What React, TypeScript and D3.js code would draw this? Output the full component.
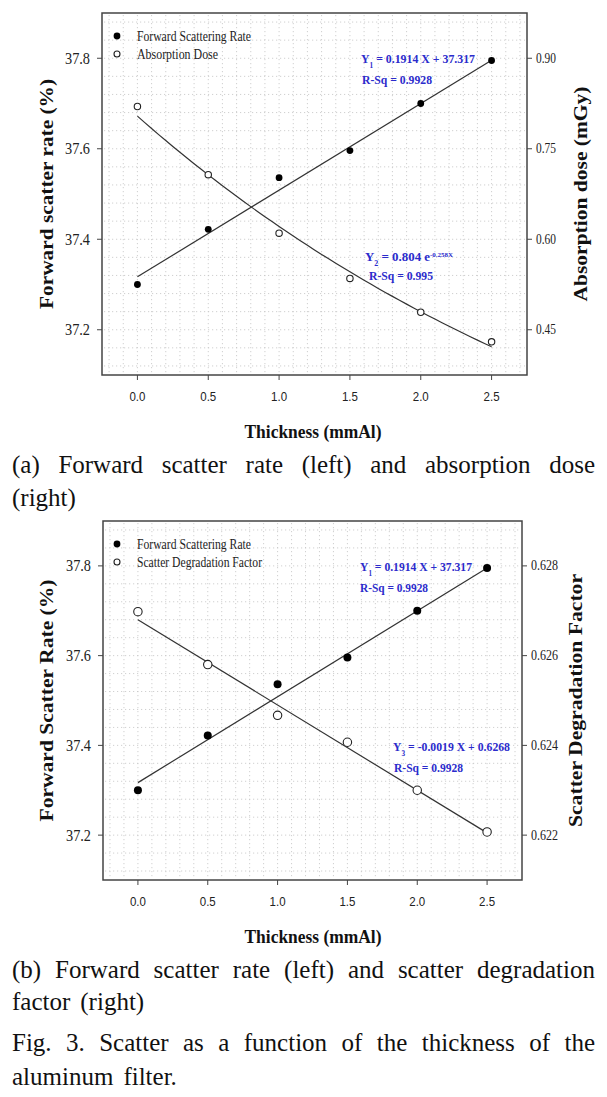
import React from "react";
import * as d3 from "d3";

// ---------- data ----------
const thickness = [0, 0.5, 1.0, 1.5, 2.0, 2.5];
const forwardScatter = [37.3, 37.422, 37.536, 37.596, 37.7, 37.795];
const absorptionDose = [0.82, 0.707, 0.61, 0.535, 0.479, 0.43];
const degradationFactor = [0.62698, 0.6258, 0.62467, 0.62407, 0.623, 0.62207];

const xTicks = [0, 0.5, 1.0, 1.5, 2.0, 2.5];
const leftTicks = [37.2, 37.4, 37.6, 37.8];
const doseTicks = [0.45, 0.6, 0.75, 0.9];
const factorTicks = [0.622, 0.624, 0.626, 0.628];

// fitted models as printed in the chart
const fit1 = { slope: 0.1914, intercept: 37.317 };
const fit2 = { a: 0.804, b: -0.258 };
const fit3 = { slope: -0.0019, intercept: 0.6268 };

const SERIF = '"Liberation Serif", "Times New Roman", serif';
const SANS = '"Liberation Sans", Arial, sans-serif';
const BLUE = "#2b2bcc";

// ---------- helpers ----------
let ctx: CanvasRenderingContext2D | null = null;
function measure(text: string, font: string) {
  if (!ctx) ctx = document.createElement("canvas").getContext("2d");
  ctx!.font = font;
  return ctx!.measureText(text).width;
}

function JustifiedLine({ text, x0, x1, y, size, justify }: any) {
  const font = `${size}px ${SERIF}`;
  const words = text.split(" ");
  const widths = words.map((w: string) => measure(w, font));
  const total = widths.reduce((a: number, b: number) => a + b, 0);
  const gap = justify ? (x1 - x0 - total) / (words.length - 1) : measure(" ", font) * 1.6;
  let x = x0;
  return (
    <g>
      {words.map((w: string, i: number) => {
        const el = (
          <text key={i} x={x} y={y} fontFamily={SERIF} fontSize={size} fill="#111">
            {w}
          </text>
        );
        x += widths[i] + gap;
        return el;
      })}
    </g>
  );
}

function Panel({ box, rightDomain, rightTicks, rightFmt, openData, rightLabel, leftLabel, leftLen, rightLen, fitKind, legend2, legW, eqs, rOpen, rFilled }: any) {
  const x = d3.scaleLinear().domain([-0.25, 2.75]).range([box.x0, box.x1]);
  const yL = d3.scaleLinear().domain([37.1, 37.9]).range([box.y1, box.y0]);
  const yR = d3.scaleLinear().domain(rightDomain).range([box.y1, box.y0]);

  const gridX = d3.range(-2, 28).map((i) => i / 10);
  const gridY = d3.range(0, 21).map((i) => 37.1 + 0.02 + i * 0.04).filter((v) => v < 37.9);

  const line1 = d3.line<number>().x((t) => x(t)).y((t) => yL(fit1.slope * t + fit1.intercept));
  const fitSamples = d3.range(0, 2.5001, 0.05);
  const line2 =
    fitKind === "exp"
      ? d3.line<number>().x((t) => x(t)).y((t) => yR(fit2.a * Math.exp(fit2.b * t)))
      : d3.line<number>().x((t) => x(t)).y((t) => yR(fit3.slope * t + fit3.intercept));

  const cy = (box.y0 + box.y1) / 2;

  return (
    <g>
      {/* grid */}
      <g stroke="#c4c4c4" strokeWidth={0.8} strokeDasharray="1.2,2.8">
        {gridX.map((g, i) => (
          <line key={"gx" + i} x1={x(g)} x2={x(g)} y1={box.y0 + 2} y2={box.y1 - 2} />
        ))}
        {gridY.map((g, i) => (
          <line key={"gy" + i} x1={box.x0 + 2} x2={box.x1 - 2} y1={yL(g)} y2={yL(g)} />
        ))}
      </g>
      {/* fits */}
      <path d={line1([0, 2.5]) || ""} fill="none" stroke="#333" strokeWidth={1.2} />
      <path d={line2(fitKind === "exp" ? fitSamples : [0, 2.5]) || ""} fill="none" stroke="#333" strokeWidth={1.2} />
      {/* points */}
      {thickness.map((t, i) => (
        <circle key={"f" + i} cx={x(t)} cy={yL(forwardScatter[i])} r={rFilled} fill="#000" />
      ))}
      {thickness.map((t, i) => (
        <circle key={"o" + i} cx={x(t)} cy={yR(openData[i])} r={rOpen} fill="#fff" stroke="#222" strokeWidth={1.1} />
      ))}
      {/* box */}
      <rect x={box.x0} y={box.y0} width={box.x1 - box.x0} height={box.y1 - box.y0} fill="none" stroke="#444" strokeWidth={1.5} />
      {/* x axis ticks */}
      {xTicks.map((t, i) => (
        <g key={"xt" + i}>
          <line x1={x(t)} x2={x(t)} y1={box.y1} y2={box.y1 + 5} stroke="#444" strokeWidth={1} />
          <text x={x(t)} y={box.y1 + 21} textAnchor="middle" dominantBaseline="central" fontFamily={SANS} fontSize={13} fill="#222" textLength={16} lengthAdjust="spacingAndGlyphs">
            {t.toFixed(1)}
          </text>
        </g>
      ))}
      {/* left ticks */}
      {leftTicks.map((t, i) => (
        <g key={"lt" + i}>
          <line x1={box.x0 - 5} x2={box.x0} y1={yL(t)} y2={yL(t)} stroke="#444" strokeWidth={1} />
          <text x={box.x0 - 12} y={yL(t)} textAnchor="end" dominantBaseline="central" fontFamily={SERIF} fontSize={16} fill="#222" textLength={25} lengthAdjust="spacingAndGlyphs">
            {t.toFixed(1)}
          </text>
        </g>
      ))}
      {/* right ticks */}
      {rightTicks.map((t: number, i: number) => (
        <g key={"rt" + i}>
          <line x1={box.x1} x2={box.x1 + 5} y1={yR(t)} y2={yR(t)} stroke="#444" strokeWidth={1} />
          <text x={box.x1 + 9} y={yR(t)} textAnchor="start" dominantBaseline="central" fontFamily={SERIF} fontSize={14} fill="#222" textLength={rightFmt === 2 ? 20 : 27} lengthAdjust="spacingAndGlyphs">
            {t.toFixed(rightFmt)}
          </text>
        </g>
      ))}
      {/* axis titles */}
      <text x={313} y={box.y1 + 56} textAnchor="middle" dominantBaseline="central" fontFamily={SERIF} fontWeight="bold" fontSize={19} fill="#111" textLength={137} lengthAdjust="spacingAndGlyphs">
        Thickness (mmAl)
      </text>
      <text transform={`translate(46,${cy}) rotate(-90)`} textAnchor="middle" dominantBaseline="central" fontFamily={SERIF} fontWeight="bold" fontSize={19} fill="#111" textLength={leftLen} lengthAdjust="spacingAndGlyphs">
        {leftLabel}
      </text>
      <text transform={`translate(${box.x1 + 53},${cy}) rotate(-90)`} textAnchor="middle" dominantBaseline="central" fontFamily={SERIF} fontWeight="bold" fontSize={19} fill="#111" textLength={rightLen} lengthAdjust="spacingAndGlyphs">
        {rightLabel}
      </text>
      {/* legend */}
      <circle cx={117} cy={box.y0 + 23} r={3.4} fill="#000" />
      <circle cx={117} cy={box.y0 + 41} r={3} fill="#fff" stroke="#222" strokeWidth={1.1} />
      <text x={137} y={box.y0 + 23} dominantBaseline="central" fontFamily={SERIF} fontSize={14} fill="#222" textLength={114} lengthAdjust="spacingAndGlyphs">
        Forward Scattering Rate
      </text>
      <text x={137} y={box.y0 + 41} dominantBaseline="central" fontFamily={SERIF} fontSize={14} fill="#222" textLength={legW} lengthAdjust="spacingAndGlyphs">
        {legend2}
      </text>
      {/* equations */}
      {eqs.map((e: any, i: number) => (
        <text key={"eq" + i} x={e.x} y={e.y + 4.5} fontFamily={SERIF} fontWeight="bold" fontSize={13} fill={BLUE} textLength={e.w} lengthAdjust="spacingAndGlyphs">
          {e.parts.map((p: any, j: number) => (
            <tspan key={j} baselineShift={p.shift || undefined} fontSize={p.size || undefined}>
              {p.t}
            </tspan>
          ))}
        </text>
      ))}
    </g>
  );
}

export default function App() {
  const topEqs = [
    { x: 361, y: 58, w: 114, parts: [{ t: "Y" }, { t: "1", shift: "sub", size: 8 }, { t: " = 0.1914 X + 37.317" }] },
    { x: 362, y: 79, w: 70, parts: [{ t: "R-Sq = 0.9928" }] },
    { x: 365, y: 256, w: 88, parts: [{ t: "Y" }, { t: "2", shift: "sub", size: 8 }, { t: " = 0.804 e" }, { t: "-0.258X", shift: "super", size: 7 }] },
    { x: 369, y: 275, w: 64, parts: [{ t: "R-Sq = 0.995" }] },
  ];
  const botEqs = [
    { x: 360, y: 566, w: 112, parts: [{ t: "Y" }, { t: "1", shift: "sub", size: 8 }, { t: " = 0.1914 X + 37.317" }] },
    { x: 360, y: 587, w: 68, parts: [{ t: "R-Sq = 0.9928" }] },
    { x: 393, y: 746, w: 117, parts: [{ t: "Y" }, { t: "3", shift: "sub", size: 8 }, { t: " = -0.0019 X + 0.6268" }] },
    { x: 394, y: 767, w: 69, parts: [{ t: "R-Sq = 0.9928" }] },
  ];
  const capSize = 25;
  return (
    <svg width={607} height={1097} style={{ position: "absolute", left: 0, top: 0, background: "#fff" }}>
      <rect x={0} y={0} width={607} height={1097} fill="#fff" />
      <Panel
        box={{ x0: 102, x1: 527, y0: 13, y1: 375 }}
        rightDomain={[0.375, 0.975]}
        rightTicks={doseTicks}
        rightFmt={2}
        openData={absorptionDose}
        leftLabel="Forward scatter rate (%)"
        rightLabel="Absorption dose (mGy)"
        leftLen={230}
        rightLen={215}
        fitKind="exp"
        legend2="Absorption Dose"
        legW={81}
        eqs={topEqs}
        rOpen={3.2}
        rFilled={3.4}
      />
      <Panel
        box={{ x0: 103, x1: 522, y0: 521, y1: 880 }}
        rightDomain={[0.621, 0.629]}
        rightTicks={factorTicks}
        rightFmt={3}
        openData={degradationFactor}
        leftLabel="Forward Scatter Rate (%)"
        rightLabel="Scatter Degradation Factor"
        leftLen={242}
        rightLen={253}
        fitKind="lin"
        legend2="Scatter Degradation Factor"
        legW={125}
        eqs={botEqs}
        rOpen={4.2}
        rFilled={4}
      />
      <JustifiedLine text="(a) Forward scatter rate (left) and absorption dose" x0={12} x1={595} y={473} size={capSize} justify />
      <JustifiedLine text="(right)" x0={12} x1={595} y={506} size={capSize} />
      <JustifiedLine text="(b) Forward scatter rate (left) and scatter degradation" x0={12} x1={595} y={978} size={capSize} justify />
      <JustifiedLine text="factor (right)" x0={12} x1={595} y={1010} size={capSize} />
      <JustifiedLine text="Fig. 3. Scatter as a function of the thickness of the" x0={12} x1={595} y={1051} size={capSize} justify />
      <JustifiedLine text="aluminum filter." x0={12} x1={595} y={1085} size={capSize} />
    </svg>
  );
}
